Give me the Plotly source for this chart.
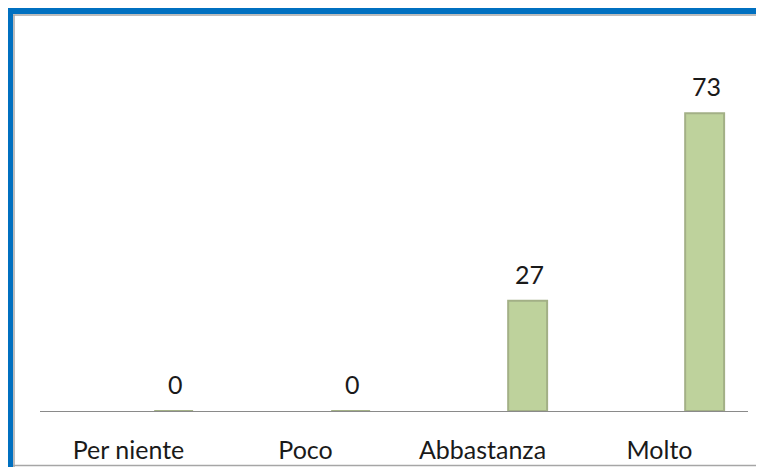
import plotly.graph_objects as go

categorie = ['Per niente', 'Poco', 'Abbastanza', 'Molto']
valori = [0, 0, 27, 73]

# the page keeps its default 8px body margin: figure coords = window coords - 8
OFF = 8
W, H = 764, 467
L, R, T, B = 40 - OFF, 16 + OFF, 30 - OFF, 56 + OFF
pw, ph = W - L - R, H - T - B


def px_x(x):
    return (x - OFF - L) / pw


def px_y(y):
    return (H - B - (y - OFF)) / ph


def seg(x0, y0, x1, y1, color, width):
    return dict(type='line', xref='paper', yref='paper',
                x0=px_x(x0), y0=px_y(y0), x1=px_x(x1), y1=px_y(y1),
                line=dict(color=color, width=width))


fig = go.Figure()

fig.add_trace(go.Bar(
    x=categorie, y=valori,
    width=0.22, offset=0.145,
    marker=dict(color='#bed29c', line=dict(color='#a3b086', width=2)),
    hoverinfo='x+y',
))

# value labels above each bar
for c, v in zip(categorie, valori):
    fig.add_annotation(x=c, y=v, text=str(v), showarrow=False,
                       xshift=47, yshift=27, yanchor='middle',
                       font=dict(family='Lato', size=25, color='#1a1a1a'))

fig.update_layout(
    width=W, height=H,
    margin=dict(l=L, r=R, t=T, b=B),
    paper_bgcolor='white', plot_bgcolor='white',
    showlegend=False,
    font=dict(family='Lato', size=25, color='#1a1a1a'),
    xaxis=dict(showgrid=False, showline=True, linecolor='#8a8a8a', linewidth=1,
               ticks='', tickfont=dict(size=25, family='Lato'), ticklabelstandoff=17),
    yaxis=dict(range=[0, 93.4], visible=False, showgrid=False),
    shapes=[
        # blue frame (top and left)
        seg(7, 11, W + OFF, 11, '#0070c0', 6),
        seg(10, 8, 10, H + OFF, '#0070c0', 6),
        # inner gray frame
        seg(13, 15, W + OFF, 15, '#a6a6a6', 1.5),
        seg(14, 15, 14, H + OFF, '#a6a6a6', 1.5),
        seg(13, 465.5, W + OFF, 465.5, '#a6a6a6', 1.5),
    ],
)

fig.write_html("out.html", config={'displayModeBar': False})
